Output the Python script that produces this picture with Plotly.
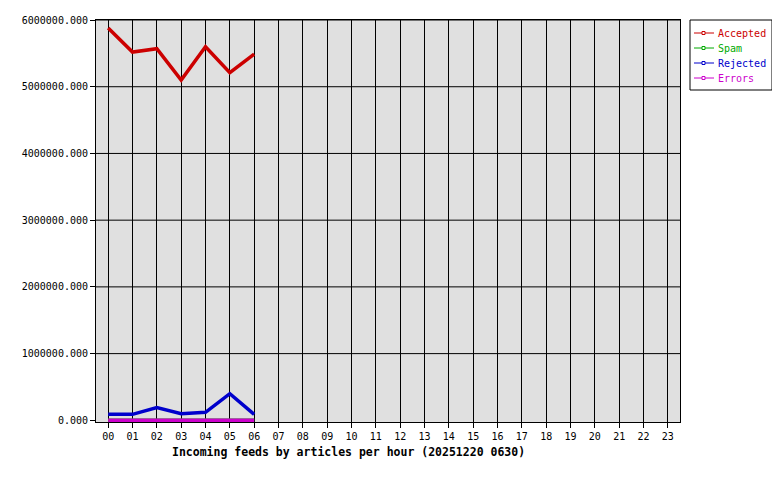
import plotly.graph_objects as go

hours = [f"{h:02d}" for h in range(24)]
accepted = [5880000, 5520000, 5570000, 5100000, 5600000, 5210000, 5490000]
spam = [0, 0, 0, 0, 0, 0, 0]
rejected = [90000, 90000, 190000, 100000, 120000, 400000, 90000]
errors = [0, 0, 0, 0, 0, 0, 0]
y_ticks = [0, 1000000, 2000000, 3000000, 4000000, 5000000, 6000000]

series = [
    ("Accepted", accepted, "#cc0000"),
    ("Spam", spam, "#00aa00"),
    ("Rejected", rejected, "#0000cc"),
    ("Errors", errors, "#cc00cc"),
]

font = "DejaVu Sans Mono, Liberation Mono, monospace"
# page body has an 8px margin, so the figure is a bit smaller than the window
W, H = 772, 472

fig = go.Figure()
for name, vals, color in series:
    fig.add_trace(go.Scatter(
        x=hours[:len(vals)], y=vals, name=name,
        mode="lines",
        line=dict(color=color, width=3.5),
        showlegend=False,
    ))

axis_common = dict(
    showline=True, linecolor="black", linewidth=1, mirror=True,
    gridcolor="black", gridwidth=1,
    ticks="outside", tickcolor="black", ticklen=5,
    zeroline=False, automargin=False,
    tickfont=dict(family=font, size=10, color="black"),
)


def px_x(x):
    return (x - 96) / 584


def px_y(y):
    return (422 - y) / 402


# horizontal grid drawn by hand so no extra line appears just above the x axis
shapes = [dict(type="line", xref="paper", yref="y", x0=0, x1=1, y0=v, y1=v,
               line=dict(color="black", width=1), layer="below")
          for v in y_ticks[1:]]

# hand-drawn legend box in the right margin
shapes.append(dict(type="rect", xref="paper", yref="paper",
                   x0=px_x(690), x1=px_x(772), y0=px_y(90), y1=px_y(20),
                   line=dict(color="black", width=1), fillcolor="white"))
annotations = []
for i, (name, vals, color) in enumerate(series):
    py = 33 + i * 15
    shapes.append(dict(type="line", xref="paper", yref="paper",
                       x0=px_x(694), x1=px_x(714), y0=px_y(py), y1=px_y(py),
                       line=dict(color=color, width=1)))
    shapes.append(dict(type="rect", xref="paper", yref="paper",
                       x0=px_x(702), x1=px_x(705), y0=px_y(py + 1.5), y1=px_y(py - 1.5),
                       line=dict(color=color, width=1), fillcolor="white"))
    annotations.append(dict(text=name, xref="paper", yref="paper",
                            x=px_x(716), y=px_y(py), xanchor="left", yanchor="middle",
                            showarrow=False,
                            font=dict(family=font, size=10, color=color)))

annotations.append(dict(
    text="<b>Incoming feeds by articles per hour (20251220 0630)</b>",
    xref="paper", yref="paper", x=px_x(348), y=px_y(452),
    xanchor="center", yanchor="middle", showarrow=False,
    font=dict(family=font, size=11.5, color="black"),
))

fig.update_layout(
    width=W, height=H,
    margin=dict(l=88, r=100, t=12, b=58),
    paper_bgcolor="white", plot_bgcolor="#e0e0e0",
    font=dict(family=font, size=10, color="black"),
    xaxis=dict(type="category", categoryorder="array", categoryarray=hours,
               range=[-0.5, 23.5], showgrid=True, **axis_common),
    # small negative floor so the zero-valued lines sit just above the axis
    yaxis=dict(range=[-25000, 6000000], tickvals=y_ticks, tickformat=".3f",
               showgrid=False, **axis_common),
    showlegend=False,
    shapes=shapes,
    annotations=annotations,
)

fig.write_html("out.html")
